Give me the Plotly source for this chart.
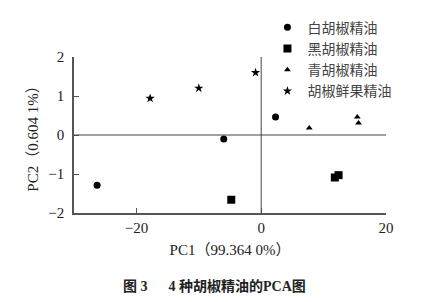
import plotly.graph_objects as go

series_names = ["白胡椒精油", "黑胡椒精油", "青胡椒精油", "胡椒鲜果精油"]
white_x = [2.3, -6.0, -26.3]
white_y = [0.46, -0.10, -1.29]
black_x = [-4.8, 11.8, 12.4]
black_y = [-1.66, -1.09, -1.03]
green_x = [7.7, 15.4, 15.6]
green_y = [0.18, 0.46, 0.31]
fresh_x = [-17.8, -10.0, -0.9]
fresh_y = [0.94, 1.20, 1.60]
x_ticks = [-20, 0, 20]
y_ticks = [-2, -1, 0, 1, 2]

symbols = ["circle", "square", "triangle-up", "star"]
sizes = [7, 8, 6, 7]
data = [(white_x, white_y), (black_x, black_y), (green_x, green_y), (fresh_x, fresh_y)]

fig = go.Figure()
for name, (xs, ys), sym, sz in zip(series_names, data, symbols, sizes):
    fig.add_trace(go.Scatter(x=xs, y=ys, mode="markers", name=name,
                             marker=dict(symbol=sym, size=sz, color="black")))

serif = "Liberation Serif, Times New Roman, serif"
axis_common = dict(showgrid=False, zeroline=False, showline=True, linecolor="#555",
                   linewidth=1.5, ticks="inside", ticklen=5, tickcolor="#555",
                   tickfont=dict(family=serif, size=15, color="#222"))
fig.update_xaxes(range=[-30, 20], tickvals=x_ticks, ticktext=["−20", "0", "20"],
                 title=dict(text="PC1（99.364 0%）", font=dict(family=serif + ", Noto Sans CJK SC", size=15, color="#222"), standoff=10),
                 **axis_common)
fig.update_yaxes(range=[-2, 2], tickvals=y_ticks, ticktext=["−2", "−1", "0", "1", "2"],
                 ticklabelstandoff=5,
                 title=dict(text="PC2（0.604 1%）", font=dict(family=serif + ", Noto Sans CJK SC", size=15, color="#222"), standoff=6),
                 **axis_common)

fig.add_shape(type="line", x0=0, x1=0, y0=-2, y1=2, xref="x", yref="y", line=dict(color="#444", width=1))
fig.add_shape(type="line", x0=-30, x1=20, y0=0, y1=0, xref="x", yref="y", line=dict(color="#444", width=1))

fig.add_annotation(text="<b>图 3　  4 种胡椒精油的PCA图</b>", xref="paper", yref="paper",
                   x=0.45, y=-0.47, xanchor="center", yanchor="middle", showarrow=False,
                   font=dict(family=serif + ", Noto Sans CJK SC", size=14, color="#222"))

fig.update_layout(width=425, height=302, margin=dict(l=74, r=39, t=54, b=89),
                  plot_bgcolor="white", paper_bgcolor="white",
                  legend=dict(x=0.62, y=1.29, xanchor="left", yanchor="top",
                              font=dict(family="Noto Sans CJK SC", size=14, color="#444"),
                              bgcolor="rgba(0,0,0,0)", itemwidth=30, tracegroupgap=0),
                  showlegend=True)

fig.write_html("out.html")
